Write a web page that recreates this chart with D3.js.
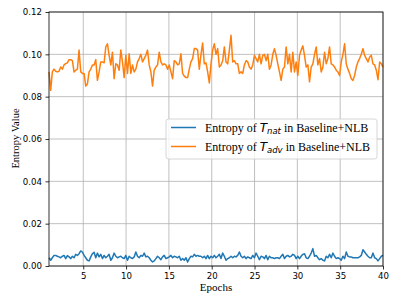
<!DOCTYPE html>
<html>
<head>
<meta charset="utf-8">
<script src="https://cdn.jsdelivr.net/npm/d3@7"></script>
<style>
  body { margin: 0; background: #fff; }
  text { font-family: "DejaVu Sans", sans-serif; }
</style>
</head>
<body>
<script>
// taille du dessin
var w = 399, h = 299

// valeurs (un point tous les ~0.195 epoch)
const natEntropy = [
  0.0039,0.0027,0.0039,0.0050,0.0050,0.0046,0.0043,0.0039,0.0046,0.0050,
  0.0035,0.0049,0.0043,0.0035,0.0046,0.0039,0.0055,0.0050,0.0058,0.0071,
  0.0066,0.0050,0.0039,0.0027,0.0024,0.0043,0.0058,0.0065,0.0039,0.0061,
  0.0043,0.0055,0.0035,0.0050,0.0039,0.0046,0.0055,0.0027,0.0039,0.0061,
  0.0046,0.0039,0.0043,0.0046,0.0039,0.0035,0.0050,0.0027,0.0046,0.0039,
  0.0035,0.0043,0.0066,0.0046,0.0039,0.0050,0.0046,0.0061,0.0043,0.0046,
  0.0039,0.0027,0.0019,0.0024,0.0035,0.0046,0.0039,0.0030,0.0043,0.0050,
  0.0035,0.0039,0.0043,0.0050,0.0039,0.0046,0.0043,0.0039,0.0046,0.0027,
  0.0035,0.0027,0.0039,0.0019,0.0035,0.0046,0.0043,0.0055,0.0046,0.0050,
  0.0046,
  0.0046,0.0039,0.0046,0.0035,0.0050,0.0035,0.0046,0.0039,0.0050,0.0039,
  0.0046,0.0055,0.0035,0.0061,0.0046,0.0027,0.0035,0.0039,0.0046,0.0039,
  0.0046,0.0043,0.0050,0.0066,0.0046,0.0039,0.0046,0.0035,0.0043,0.0039,
  0.0035,0.0050,0.0039,0.0061,0.0046,0.0030,0.0046,0.0043,0.0035,0.0050,
  0.0030,0.0046,0.0039,0.0039,0.0035,0.0039,0.0039,0.0035,0.0046,0.0055,
  0.0035,0.0046,0.0050,0.0043,0.0046,0.0055,0.0050,0.0035,0.0046,0.0035,
  0.0046,0.0055,0.0058,0.0039,0.0035,0.0046,0.0061,0.0082,0.0046,0.0050,
  0.0039,0.0030,0.0035,0.0027,0.0024,0.0046,0.0039,0.0055,0.0039,0.0061,
  0.0046,0.0035,0.0039,0.0035,0.0027,0.0046,0.0035,0.0066,0.0046,0.0043,
  0.0043,0.0039,0.0039,0.0039,0.0039,0.0043,0.0050,0.0077,0.0066,0.0055,
  0.0046,0.0039,0.0039,0.0061,0.0039,0.0035,0.0024,0.0035,0.0046,0.0050
];

const advEntropy = [
  0.0917,0.0830,0.0917,0.0930,0.0920,0.0917,0.0920,0.0940,0.0930,0.0950,
  0.0956,0.0960,0.0975,0.0975,0.0970,0.0917,0.0925,0.0930,0.1020,0.0917,
  0.0910,0.0910,0.0850,0.0860,0.0917,0.0930,0.0950,0.0950,0.0975,0.0877,
  0.0917,0.0964,0.0964,0.0960,0.1035,0.1050,0.0995,0.0950,0.1010,0.0885,
  0.0955,0.0950,0.0925,0.1020,0.0964,0.0890,0.0995,0.0910,0.1003,0.0910,
  0.0950,0.0917,0.0930,0.0964,0.0980,0.1000,0.0964,0.0980,0.0995,0.1020,
  0.0950,0.0917,0.0850,0.0925,0.0940,0.0950,0.1010,0.0964,0.0950,0.0955,
  0.0950,0.0930,0.0950,0.0917,0.0885,0.0970,0.0964,0.0950,0.0955,0.1003,
  0.0910,0.0897,0.0890,0.0890,0.0930,0.0964,0.0980,0.1027,0.1027,0.1020,
  0.0930,
  0.1000,0.1053,0.0955,0.0960,0.0917,0.0865,0.0955,0.1020,0.1050,0.1000,
  0.1027,0.0940,0.0950,0.0970,0.1035,0.0964,0.0955,0.1020,0.1090,0.0964,
  0.0970,0.0955,0.0955,0.0910,0.0917,0.0910,0.0950,0.0970,0.0964,0.0940,
  0.0930,0.0950,0.0995,0.0980,0.0964,0.1000,0.0955,0.0995,0.1000,0.0970,
  0.1000,0.0930,0.0950,0.1000,0.1027,0.0995,0.0955,0.0917,0.0877,0.0930,
  0.0940,0.1035,0.0955,0.1000,0.0917,0.1010,0.0917,0.0964,0.0900,0.0995,
  0.1020,0.1040,0.0995,0.0940,0.0950,0.0870,0.0940,0.0955,0.1000,0.1035,
  0.0950,0.0980,0.0917,0.0940,0.1010,0.0955,0.0980,0.1035,0.0955,0.0950,
  0.0940,0.0925,0.0917,0.0900,0.0964,0.1000,0.1050,0.0955,0.0930,0.0910,
  0.0885,0.0877,0.0900,0.0940,0.0964,0.0980,0.1000,0.1027,0.0995,0.0980,
  0.0964,0.0987,0.0995,0.0955,0.0950,0.0925,0.0880,0.0964,0.0955,0.0940
];

const xTicks = [5, 10, 15, 20, 25, 30, 35, 40];
const yTicks = [0, 0.02, 0.04, 0.06, 0.08, 0.10, 0.12];
const firstEpoch = 1, lastEpoch = 40;

// zone du graphique
var pl = 49, pr = 383, pt = 12, pb = 266;

var x = d3.scaleLinear().domain([firstEpoch, lastEpoch]).range([pl, pr]);
var y = d3.scaleLinear().domain([0, 0.12]).range([pb, pt]);

var svg = d3.select("body").append("svg")
  .attr("width", w)
  .attr("height", h);

// grille
svg.append("g").selectAll("line")
  .data(xTicks).enter().append("line")
  .attr("x1", d => x(d)).attr("x2", d => x(d))
  .attr("y1", pt).attr("y2", pb)
  .attr("stroke", "#b0b0b0").attr("stroke-width", 0.8);
svg.append("g").selectAll("line")
  .data(yTicks).enter().append("line")
  .attr("x1", pl).attr("x2", pr)
  .attr("y1", d => y(d)).attr("y2", d => y(d))
  .attr("stroke", "#b0b0b0").attr("stroke-width", 0.8);

// axes
var xAxis = svg.append("g")
  .attr("transform", "translate(0," + pb + ")")
  .call(d3.axisBottom(x).tickValues(xTicks).tickSize(3.5).tickPadding(3.5));
var yAxis = svg.append("g")
  .attr("transform", "translate(" + pl + ",0)")
  .call(d3.axisLeft(y).tickValues(yTicks).tickFormat(d3.format(".2f")).tickSize(3.5).tickPadding(3.5));
[xAxis, yAxis].forEach(function(a) {
  a.select(".domain").remove();
  a.selectAll("text").style("font-family", "DejaVu Sans").style("font-size", "8.6px").attr("fill", "#000");
  a.selectAll("line").attr("stroke", "#000").attr("stroke-width", 0.8);
});

// courbes
var line = d3.line()
  .x(function(d, i, arr) { return x(firstEpoch + i * (lastEpoch - firstEpoch) / (arr.length - 1)); })
  .y(d => y(d));

svg.append("path").datum(natEntropy)
  .attr("d", line).attr("fill", "none")
  .attr("stroke", "#1f77b4").attr("stroke-width", 1.5).attr("stroke-linejoin", "round");
svg.append("path").datum(advEntropy)
  .attr("d", line).attr("fill", "none")
  .attr("stroke", "#ff7f0e").attr("stroke-width", 1.5).attr("stroke-linejoin", "round");

// cadre
svg.append("rect")
  .attr("x", pl).attr("y", pt)
  .attr("width", pr - pl).attr("height", pb - pt)
  .attr("fill", "none").attr("stroke", "#000").attr("stroke-width", 0.8);

// titres des axes
svg.append("text")
  .attr("x", (pl + pr) / 2).attr("y", 291)
  .attr("text-anchor", "middle")
  .style("font-family", "Liberation Serif").style("font-size", "11px")
  .text("Epochs");
svg.append("text")
  .attr("transform", "translate(18.5,138.5) rotate(-90)")
  .attr("text-anchor", "middle")
  .style("font-family", "Liberation Serif").style("font-size", "10.5px")
  .text("Entropy Value");

// légende
var legend = svg.append("g");
legend.append("rect")
  .attr("x", 166).attr("y", 119).attr("width", 211).attr("height", 40)
  .attr("rx", 2.5)
  .attr("fill", "#fff").attr("fill-opacity", 0.8)
  .attr("stroke", "#cccccc").attr("stroke-width", 0.8);

var entries = [
  { color: "#1f77b4", sub: "nat" },
  { color: "#ff7f0e", sub: "adv" }
];
entries.forEach(function(e, i) {
  var yy = 127.5 + i * 19;
  legend.append("line")
    .attr("x1", 171).attr("x2", 196).attr("y1", yy).attr("y2", yy)
    .attr("stroke", e.color).attr("stroke-width", 1.5);
  var t = legend.append("text")
    .attr("x", 205).attr("y", yy + 4)
    .style("font-family", "Liberation Serif").style("font-size", "12px");
  t.append("tspan").text("Entropy of ");
  t.append("tspan").style("font-family", "DejaVu Sans").style("font-style", "italic").text("T");
  t.append("tspan").attr("dy", 2.5).style("font-family", "DejaVu Sans").style("font-style", "italic").style("font-size", "8.5px").text(e.sub);
  t.append("tspan").attr("dy", -2.5).text(" in Baseline+NLB");
});
</script>
</body>
</html>
